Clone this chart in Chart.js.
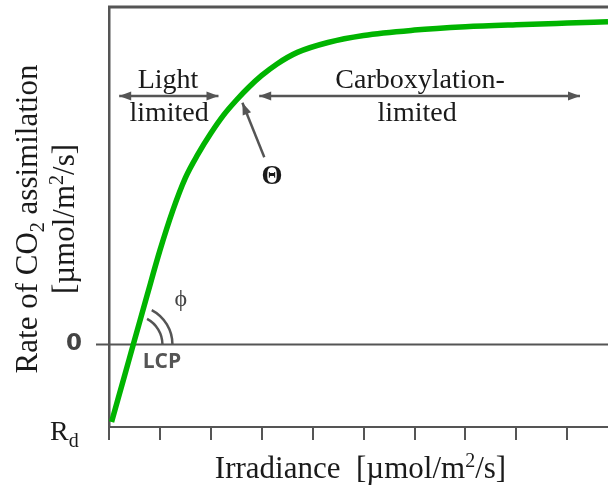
<!DOCTYPE html>
<html>
<head>
<meta charset="utf-8">
<script src="https://cdn.jsdelivr.net/npm/chart.js@4/dist/chart.umd.min.js"></script>
<style>
  html, body { margin: 0; padding: 0; background: #fff; }
</style>
</head>
<body>
<canvas id="chart" width="608" height="489"></canvas>
<script>
const irradiance   = [0.05, 0.30, 0.50, 0.75, 1.00, 1.25, 1.50, 1.75, 2.00, 2.25, 2.50, 2.75, 3.00, 3.30, 3.70, 4.30, 5.00, 6.00, 7.00, 8.00, 9.00, 9.80];
const assimilation = [-0.94, -0.39, 0.05, 0.60, 1.14, 1.62, 2.02, 2.31, 2.56, 2.78, 2.96, 3.12, 3.26, 3.40, 3.54, 3.66, 3.745, 3.81, 3.85, 3.875, 3.895, 3.91];

const xTickValues = [0, 1, 2, 3, 4, 5, 6, 7, 8, 9];
const yTickValues = [0, -1];
const yTickLabels = ['0', 'Rd'];

const GREY = '#555555';
const INK = '#1a1a1a';
const SERIF = '"Liberation Serif", "Times New Roman", serif';

// draws a run of text pieces (normal / sub / sup) centred on x
function drawRich(ctx, parts, x, y, size) {
  const pieces = parts.map(p => {
    const s = p.sub || p.sup ? Math.round(size * 0.66) : size;
    ctx.font = s + 'px ' + SERIF;
    return { t: p.t, s, dy: p.sub ? size * 0.22 : (p.sup ? -size * 0.36 : 0), w: ctx.measureText(p.t).width };
  });
  const total = pieces.reduce((a, p) => a + p.w, 0);
  let cx = x - total / 2;
  ctx.textAlign = 'left';
  ctx.textBaseline = 'alphabetic';
  pieces.forEach(p => {
    ctx.font = p.s + 'px ' + SERIF;
    ctx.fillText(p.t, cx, y + p.dy);
    cx += p.w;
  });
}

function arrowHead(ctx, x, y, angle) {
  const len = 12, half = 4.5;
  ctx.save();
  ctx.translate(x, y);
  ctx.rotate(angle);
  ctx.beginPath();
  ctx.moveTo(0, 0);
  ctx.lineTo(-len, -half);
  ctx.lineTo(-len, half);
  ctx.closePath();
  ctx.fill();
  ctx.restore();
}

function arrow(ctx, x1, y1, x2, y2, both) {
  const a = Math.atan2(y2 - y1, x2 - x1);
  ctx.beginPath();
  ctx.moveTo(x1, y1);
  ctx.lineTo(x2, y2);
  ctx.stroke();
  arrowHead(ctx, x2, y2, a);
  if (both) arrowHead(ctx, x1, y1, a + Math.PI);
}

const frameAndMarks = {
  id: 'frameAndMarks',
  beforeDatasetsDraw(chart) {
    const { ctx, chartArea, scales: { x, y } } = chart;
    const y0 = y.getPixelForValue(0);
    ctx.save();
    ctx.strokeStyle = GREY;
    // top frame edge
    ctx.lineWidth = 3;
    ctx.beginPath();
    ctx.moveTo(chartArea.left - 1, chartArea.top);
    ctx.lineTo(chartArea.right, chartArea.top);
    ctx.stroke();
    // zero line, reaching past the axis
    ctx.lineWidth = 2;
    ctx.beginPath();
    ctx.moveTo(chartArea.left - 13, y0);
    ctx.lineTo(chartArea.right, y0);
    ctx.stroke();
    // quantum-yield angle arcs at the compensation point
    const cx = x.getPixelForValue(0.48);
    ctx.lineWidth = 2.5;
    [29, 39].forEach(r => {
      ctx.beginPath();
      ctx.arc(cx, y0, r, -62 * Math.PI / 180, 0);
      ctx.stroke();
    });
    ctx.restore();
  },
  afterDraw(chart) {
    const { ctx, chartArea, scales: { x, y } } = chart;
    const px = v => x.getPixelForValue(v);
    const py = v => y.getPixelForValue(v);
    ctx.save();

    // y tick labels
    ctx.fillStyle = '#444';
    ctx.font = 'bold 23px "DejaVu Sans", sans-serif';
    ctx.textAlign = 'center';
    ctx.textBaseline = 'middle';
    ctx.fillText(yTickLabels[0], 74, py(yTickValues[0]));
    ctx.fillStyle = INK;
    ctx.textBaseline = 'alphabetic';
    ctx.textAlign = 'left';
    ctx.font = '28px ' + SERIF;
    const rBase = py(yTickValues[1]) + 13;
    ctx.fillText(yTickLabels[1][0], 50, rBase);
    const rw = ctx.measureText(yTickLabels[1][0]).width;
    ctx.font = '20px ' + SERIF;
    ctx.fillText(yTickLabels[1][1], 50 + rw, rBase + 7);

    // axis titles
    drawRich(ctx, [{ t: 'Irradiance  [\u00b5mol/m' }, { t: '2', sup: true }, { t: '/s]' }],
      (chartArea.left + chartArea.right) / 2 + 2, 478, 31);
    ctx.save();
    ctx.translate(37, (chartArea.top + chartArea.bottom) / 2 + 2);
    ctx.rotate(-Math.PI / 2);
    drawRich(ctx, [{ t: 'Rate of CO' }, { t: '2', sub: true }, { t: ' assimilation' }], 0, 0, 31);
    drawRich(ctx, [{ t: '[\u00b5mol/m' }, { t: '2', sup: true }, { t: '/s]' }], 0, 37, 31);
    ctx.restore();

    // limitation regions
    ctx.fillStyle = INK;
    ctx.textAlign = 'center';
    ctx.font = '28px ' + SERIF;
    ctx.fillText('Light', px(1.16), py(3.11));
    ctx.fillText('limited', px(1.18), py(2.71));
    ctx.fillText('Carboxylation-', px(6.11), py(3.11));
    ctx.fillText('limited', px(6.05), py(2.71));

    ctx.strokeStyle = GREY;
    ctx.fillStyle = GREY;
    ctx.lineWidth = 2.5;
    arrow(ctx, px(0.2), py(3.01), px(2.15), py(3.01), true);
    arrow(ctx, px(2.95), py(3.01), px(9.25), py(3.01), true);
    // curvature pointer
    arrow(ctx, px(3.05), py(2.27), px(2.62), py(2.93), false);

    ctx.fillStyle = INK;
    ctx.font = 'bold 27px ' + SERIF;
    ctx.textBaseline = 'middle';
    ctx.fillText('\u0398', px(3.2), py(2.03));

    ctx.fillStyle = '#444';
    ctx.font = '24px ' + SERIF;
    ctx.fillText('\u03d5', px(1.41), py(0.54));

    ctx.fillStyle = GREY;
    ctx.font = 'bold 21px "Open Sans", sans-serif';
    ctx.fillText('LCP', px(1.04), py(-0.21));
    ctx.restore();
  }
};

new Chart(document.getElementById('chart'), {
  type: 'line',
  data: {
    datasets: [{
      data: irradiance.map((v, i) => ({ x: v, y: assimilation[i] })),
      borderColor: '#00b400',
      borderWidth: 5.5,
      pointRadius: 0,
      cubicInterpolationMode: 'monotone',
      fill: false
    }]
  },
  options: {
    responsive: false,
    animation: false,
    devicePixelRatio: 1,
    layout: { padding: { top: 7, right: 0, left: 0, bottom: 0 } },
    plugins: { legend: { display: false }, tooltip: { enabled: false } },
    scales: {
      x: {
        type: 'linear',
        min: 0,
        max: 9.8,
        afterBuildTicks: scale => { scale.ticks = xTickValues.map(v => ({ value: v })); },
        afterFit: scale => { scale.height = 62; },
        ticks: { display: false },
        grid: { drawOnChartArea: false, drawTicks: true, tickLength: 13, color: GREY, lineWidth: 2 },
        border: { display: true, color: GREY, width: 2 }
      },
      y: {
        type: 'linear',
        min: -1,
        max: 4.09,
        afterFit: scale => { scale.width = 109; },
        ticks: { display: false },
        grid: { display: false },
        border: { display: true, color: GREY, width: 2.5 }
      }
    }
  },
  plugins: [frameAndMarks]
});
</script>
</body>
</html>
